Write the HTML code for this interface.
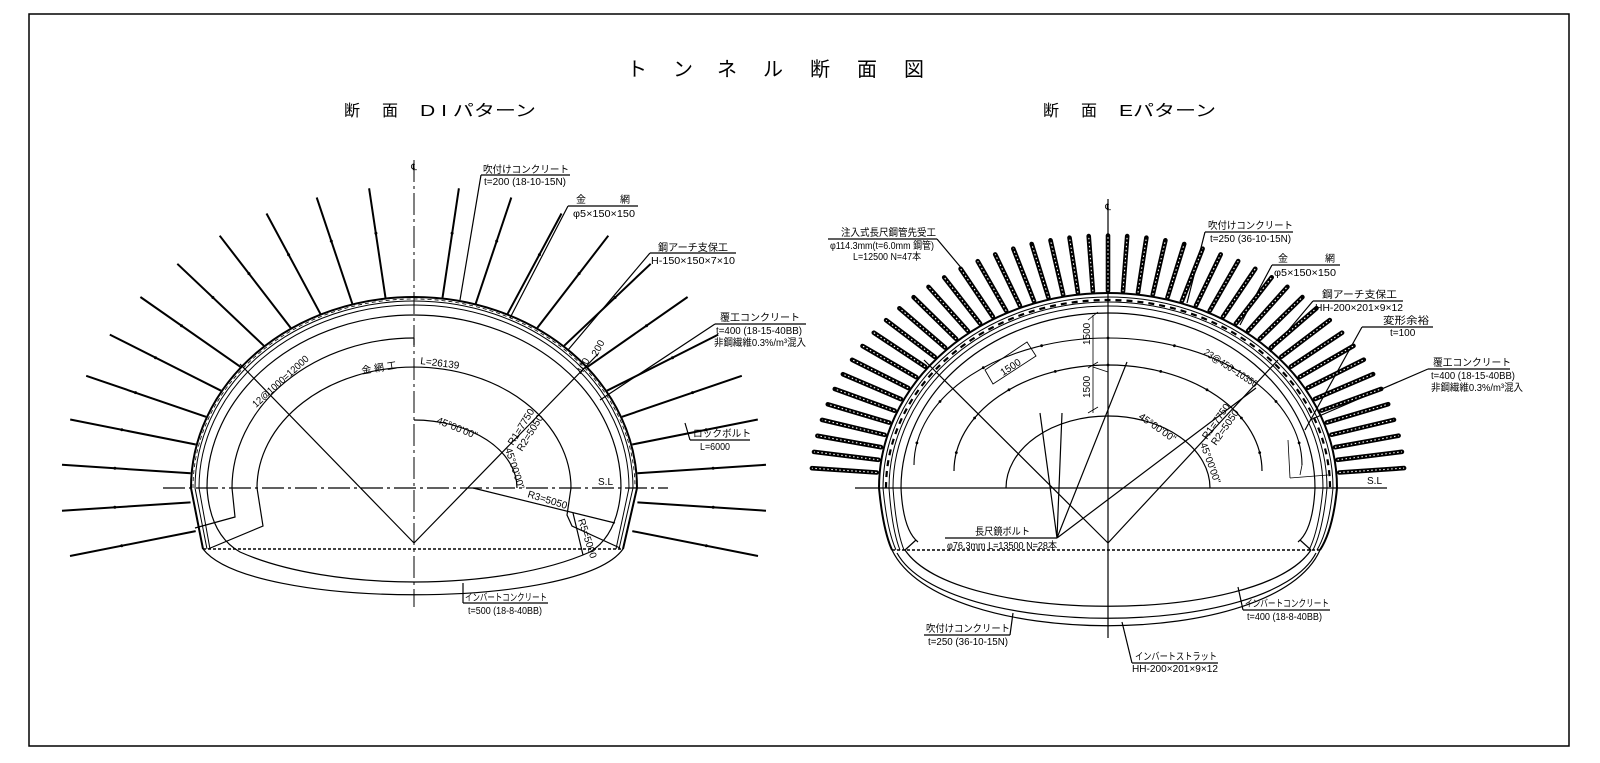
<!DOCTYPE html>
<html><head><meta charset="utf-8">
<style>
html,body{margin:0;padding:0;background:#fff;}
svg{display:block;}
text{font-family:"Liberation Sans","Noto Sans CJK JP",sans-serif;fill:#000;}
.s{font-size:10px;}
.t{font-size:20px;}
.h{font-size:16px;}
</style></head>
<body>
<svg id="sv" width="1600" height="763" viewBox="0 0 1600 763" xmlns="http://www.w3.org/2000/svg">
<rect x="0" y="0" width="1600" height="763" fill="#fff"/>
<rect x="29" y="14" width="1540" height="732" fill="none" stroke="#000" stroke-width="1.5"/>

<!-- titles -->
<g class="t">
<text x="637" y="76" class="t" text-anchor="middle">ト</text>
<text x="683" y="76" class="t" text-anchor="middle">ン</text>
<text x="727" y="76" class="t" text-anchor="middle">ネ</text>
<text x="773" y="76" class="t" text-anchor="middle">ル</text>
<text x="820" y="76" class="t" text-anchor="middle">断</text>
<text x="867" y="76" class="t" text-anchor="middle">面</text>
<text x="914" y="76" class="t" text-anchor="middle">図</text>
</g>
<text x="344" y="116" class="h">断</text>
<text x="382" y="116" class="h">面</text>
<text x="420" y="116" class="h" textLength="116" lengthAdjust="spacingAndGlyphs">D I パターン</text>
<text x="1043" y="116" class="h">断</text>
<text x="1081" y="116" class="h">面</text>
<text x="1119" y="116" class="h" textLength="97" lengthAdjust="spacingAndGlyphs">Eパターン</text>

<g id="geo" fill="none" stroke="#000" stroke-width="1.2">
<!-- ===== LEFT (DI) ===== -->
<line x1="414" y1="160" x2="414" y2="607" stroke-dasharray="22 4 3 4" stroke-width="1"/>
<line x1="163" y1="488" x2="668" y2="488" stroke-dasharray="22 4 3 4" stroke-width="1.2"/>
<path d="M191,488 A223,191 0 0 1 637,488 L623,549 M191,488 L203,549" stroke-width="2"/>
<path d="M193,488 A221,189 0 0 1 635,488" stroke-width="0.8" stroke-dasharray="4 3"/>
<path d="M195,488 A219,187 0 0 1 633,488 L619,549 M195,488 L207,549" stroke-width="1"/>
<path d="M199,488 A215,183 0 0 1 629,488 L616,549 M199,488 L210,549" stroke-width="1"/>
<path d="M207,488 A207,173 0 0 1 621,488 Q618,535 590,552 C500,592 330,592 240,552 Q210,535 207,488"/>
<path d="M203,549 C250,610 580,610 623,549"/>
<line x1="203" y1="549" x2="623" y2="549" stroke-dasharray="3 2" stroke-width="1.6"/>
<path d="M414,338 A182,150 0 0 0 232,488 L235,517 L195,528"/>
<path d="M414,338 L414,345"/>
<path d="M208,549 L263,526 L257,488 A157,121 0 0 1 571,488 L567,515 L572,526 L620,548"/>
<path d="M414,543 L240,364 M414,543 L598,354"/>
<path d="M414,420 A103,68 0 0 1 517,488"/>
<path d="M473,488 L615,523 M573,513 L583,555"/>
<path d="M481,175 L460,300 M568,206 L510,318 M650,253 L568,350 M715,324 L600,400 M690,440 L685,423 M463,603 L463,583"/>
<path d="M481,175 H570 M568,206 H638 M650,253 H736 M715,324 H806 M690,440 H750 M463,603 H548"/>

<!-- ===== RIGHT (E) ===== -->
<line x1="1108" y1="199" x2="1108" y2="638" stroke-width="1.2"/>
<line x1="855" y1="488" x2="1387" y2="488" stroke-width="1.2"/>
<path d="M879,488 A229,195 0 0 1 1337,488 Q1333,530 1320,550 M879,488 Q883,530 892,550" stroke-width="2"/>
<path d="M883,488 A225,191 0 0 1 1333,488 Q1329,530 1317,550 M883,488 Q887,530 896,550" stroke-width="1"/>
<path d="M886,488 A222,188 0 0 1 1330,488" stroke-width="2.2" stroke-dasharray="6 5"/>
<path d="M889,488 A219,186 0 0 1 1327,488 Q1323,530 1313,550 M889,488 Q892,530 900,550" stroke-width="1"/>
<path d="M893,488 A215,182 0 0 1 1323,488 Q1319,530 1309,550 M893,488 Q896,530 904,550" stroke-width="1"/>
<path d="M901,488 A207,175 0 0 1 1315,488 Q1313,530 1298,542 M901,488 Q903,530 918,542"/>
<path d="M905,550 L916,540 M1311,550 L1300,540"/>
<path d="M892,550 C940,651 1276,651 1320,550"/>
<path d="M897,553 C945,640 1271,640 1316,553"/>
<path d="M905,550 C955,625 1261,625 1311,550"/>
<line x1="892" y1="550" x2="1320" y2="550" stroke-dasharray="3 2" stroke-width="1.6"/>
<path d="M914,465 A194,127 0 0 1 1302,465" stroke-width="1.1"/>
<path d="M1302,465 L1300,475 M1290,478 L1288,440 M1290,478 L1328,475" stroke-width="0.8"/>
<path d="M954,471 A154,106 0 0 1 1262,471"/>
<path d="M1006,488 A102,72 0 0 1 1210,488"/>
<path d="M1108,543 L924,360 M1108,543 L1278,360"/>
<path d="M1057,538 L1062,413 M1057,538 L1127,362 M1057,538 L1256,388 M1057,538 L1040,413"/>
<path d="M1093,315 L1093,413 M1088,320 L1098,312 M1088,368 L1098,362 M1088,413 L1098,407 M1093,367 L1108,372" stroke-width="0.8"/>
<path d="M985,370 L1027,342 L1036,356 L993,384 Z" stroke-width="0.9"/>
<path d="M937,239 L963,270 M1205,232 L1187,303 M1272,265 L1240,325 M1313,301 L1270,352 M1362,327 L1305,430 M1428,369 L1310,420 M1243,610 L1238,587 M1010,635 L1013,613 M1132,663 L1122,622"/>
<path d="M828,239 H937 M1205,232 H1293 M1272,265 H1340 M1313,301 H1403 M1362,327 H1433 M1428,369 H1510 M945,538 H1057 M1243,610 H1330 M924,635 H1010 M1132,663 H1218"/>
</g>
<g id="dyn"></g>

<!-- LEFT labels -->
<g class="s">
<text x="414" y="170" text-anchor="middle" font-size="9">℄</text>
<text x="483" y="173" textLength="86" lengthAdjust="spacingAndGlyphs">吹付けコンクリート</text>
<text x="484" y="185" textLength="82" lengthAdjust="spacingAndGlyphs">t=200 (18-10-15N)</text>
<text x="576" y="203">金</text><text x="620" y="203">網</text>
<text x="573" y="217" textLength="62" lengthAdjust="spacingAndGlyphs">φ5×150×150</text>
<text x="658" y="251" textLength="70" lengthAdjust="spacingAndGlyphs">鋼アーチ支保工</text>
<text x="651" y="264" textLength="84" lengthAdjust="spacingAndGlyphs">H-150×150×7×10</text>
<text x="720" y="321" textLength="80" lengthAdjust="spacingAndGlyphs">覆工コンクリート</text>
<text x="716" y="334" textLength="86" lengthAdjust="spacingAndGlyphs">t=400 (18-15-40BB)</text>
<text x="714" y="346" textLength="92" lengthAdjust="spacingAndGlyphs">非鋼繊維0.3%/m³混入</text>
<text x="693" y="437" textLength="58" lengthAdjust="spacingAndGlyphs">ロックボルト</text>
<text x="700" y="450" textLength="30" lengthAdjust="spacingAndGlyphs">L=6000</text>
<text x="465" y="601" textLength="82" lengthAdjust="spacingAndGlyphs">インバートコンクリート</text>
<text x="468" y="614" textLength="74" lengthAdjust="spacingAndGlyphs">t=500 (18-8-40BB)</text>
<text x="598" y="485">S.L</text>
<text transform="translate(256,408) rotate(-42)" textLength="72" lengthAdjust="spacingAndGlyphs">12@1000=12000</text>
<text transform="translate(362,374) rotate(-9)">金 網 工</text>
<text transform="translate(420,364) rotate(7)">L=26139</text>
<text transform="translate(436,423) rotate(22)">45°00'00"</text>
<text transform="translate(505,449) rotate(72)">45°00'00"</text>
<text transform="translate(513,446) rotate(-58)">R1=7750</text>
<text transform="translate(522,452) rotate(-58)">R2=5050</text>
<text transform="translate(527,497) rotate(17)">R3=5050</text>
<text transform="translate(578,520) rotate(72)">R5=5000</text>
<text transform="translate(597,357) rotate(-62)">200</text>
<text transform="translate(582,375) rotate(-62)">400</text>
</g>

<!-- RIGHT labels -->
<g class="s">
<text x="1108" y="210" text-anchor="middle" font-size="9">℄</text>
<text x="841" y="236" textLength="95" lengthAdjust="spacingAndGlyphs">注入式長尺鋼管先受工</text>
<text x="830" y="249" textLength="104" lengthAdjust="spacingAndGlyphs">φ114.3mm(t=6.0mm 鋼管)</text>
<text x="853" y="260" textLength="68" lengthAdjust="spacingAndGlyphs">L=12500 N=47本</text>
<text x="1208" y="229" textLength="85" lengthAdjust="spacingAndGlyphs">吹付けコンクリート</text>
<text x="1210" y="242" textLength="81" lengthAdjust="spacingAndGlyphs">t=250 (36-10-15N)</text>
<text x="1278" y="262">金</text><text x="1325" y="262">網</text>
<text x="1274" y="276" textLength="62" lengthAdjust="spacingAndGlyphs">φ5×150×150</text>
<text x="1322" y="298" textLength="75" lengthAdjust="spacingAndGlyphs">鋼アーチ支保工</text>
<text x="1315" y="311" textLength="88" lengthAdjust="spacingAndGlyphs">HH-200×201×9×12</text>
<text x="1383" y="324" textLength="46" lengthAdjust="spacingAndGlyphs">変形余裕</text>
<text x="1390" y="336">t=100</text>
<text x="1433" y="366" textLength="78" lengthAdjust="spacingAndGlyphs">覆工コンクリート</text>
<text x="1431" y="379" textLength="84" lengthAdjust="spacingAndGlyphs">t=400 (18-15-40BB)</text>
<text x="1431" y="391" textLength="92" lengthAdjust="spacingAndGlyphs">非鋼繊維0.3%/m³混入</text>
<text x="1367" y="484">S.L</text>
<text x="975" y="535" textLength="55" lengthAdjust="spacingAndGlyphs">長尺鏡ボルト</text>
<text x="947" y="549" textLength="110" lengthAdjust="spacingAndGlyphs">φ76.3mm L=13500 N=28本</text>
<text x="1245" y="607" textLength="84" lengthAdjust="spacingAndGlyphs">インバートコンクリート</text>
<text x="1247" y="620" textLength="75" lengthAdjust="spacingAndGlyphs">t=400 (18-8-40BB)</text>
<text x="926" y="632" textLength="84" lengthAdjust="spacingAndGlyphs">吹付けコンクリート</text>
<text x="928" y="645" textLength="80" lengthAdjust="spacingAndGlyphs">t=250 (36-10-15N)</text>
<text x="1135" y="660" textLength="82" lengthAdjust="spacingAndGlyphs">インバートストラット</text>
<text x="1132" y="672" textLength="86" lengthAdjust="spacingAndGlyphs">HH-200×201×9×12</text>
<text transform="translate(1003,376) rotate(-33)">1500</text>
<text transform="translate(1090,345) rotate(-90)">1500</text>
<text transform="translate(1090,398) rotate(-90)">1500</text>
<text transform="translate(1203,354) rotate(33)" textLength="62" lengthAdjust="spacingAndGlyphs">23@450=10350</text>
<text transform="translate(1138,418) rotate(35)">45°00'00"</text>
<text transform="translate(1200,444) rotate(70)">45°00'00"</text>
<text transform="translate(1207,440) rotate(-55)">R1=7750</text>
<text transform="translate(1216,446) rotate(-55)">R2=5050</text>
</g>
</svg>
<script>
(function(){
var ns="http://www.w3.org/2000/svg",g=document.getElementById("dyn"),s="";
function P(cx,cy,k,r,a,sg){var t=a*Math.PI/180;return [cx+sg*r*Math.sin(t),cy-r*k*Math.cos(t)];}
// left rock bolts
for(var i=0;i<12;i++){var a=7.3+8.7*i;for(var sg=-1;sg<=1;sg+=2){
 var b=P(414,488,0.856,224,a,sg),t=P(414,488,0.856,353,a,sg),m=P(414,488,0.856,300,a,sg);
 s+='<line x1="'+b[0].toFixed(1)+'" y1="'+b[1].toFixed(1)+'" x2="'+t[0].toFixed(1)+'" y2="'+t[1].toFixed(1)+'" stroke="#000" stroke-width="2"/>';
 s+='<circle cx="'+m[0].toFixed(1)+'" cy="'+m[1].toFixed(1)+'" r="1.5" fill="#000"/>';}}
// forepiling pipes
for(var j=0;j<47;j++){var a2=-85.5+3.717*j;
 var b2=P(1108,488,0.85,232,a2,1),t2=P(1108,488,0.85,297,a2,1);
 var l='x1="'+b2[0].toFixed(1)+'" y1="'+b2[1].toFixed(1)+'" x2="'+t2[0].toFixed(1)+'" y2="'+t2[1].toFixed(1)+'"';
 s+='<line '+l+' stroke="#000" stroke-width="4.6" stroke-linecap="round"/>';
 s+='<line '+l+' stroke="#fff" stroke-width="1.1" stroke-dasharray="1.5 2.5"/>';}
// dots on E arcs
for(var q=0;q<9;q++){var a3=-80+20*q;var d=P(1108,465,127/194,194,a3,1);s+='<circle cx="'+d[0].toFixed(1)+'" cy="'+d[1].toFixed(1)+'" r="1.4" fill="#000"/>';
 var d2=P(1108,471,106/154,154,a3,1);s+='<circle cx="'+d2[0].toFixed(1)+'" cy="'+d2[1].toFixed(1)+'" r="1.4" fill="#000"/>';}
g.innerHTML=s;
})();
</script>
</body></html>
